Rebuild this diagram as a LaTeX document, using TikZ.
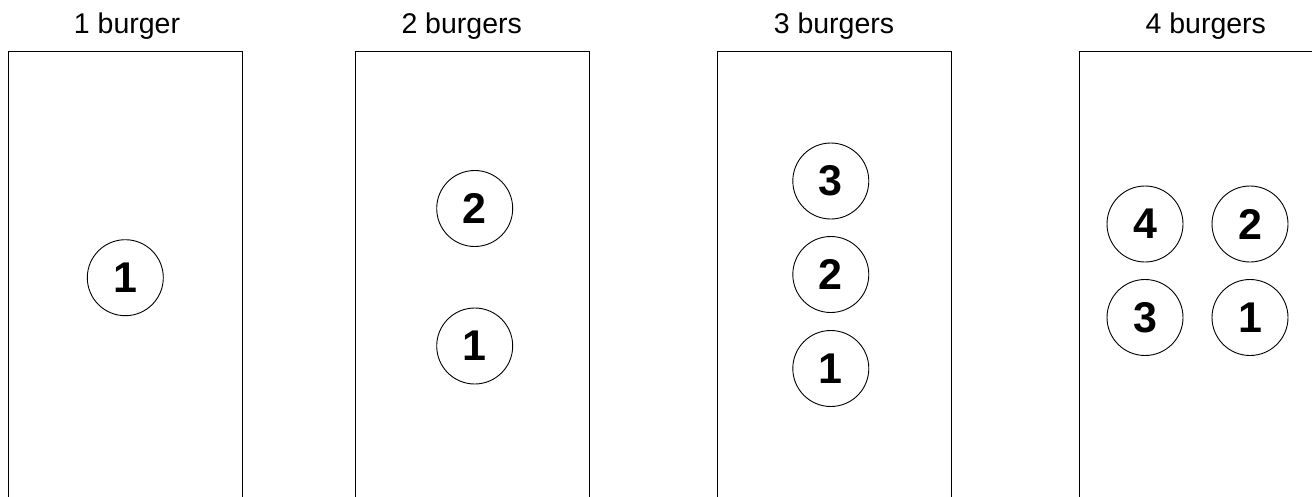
\documentclass[tikz,border=0pt]{standalone}
\usepackage{fontspec}
\setmainfont{Liberation Sans}
\begin{document}
\begin{tikzpicture}[x=1pt,y=-1pt,
  tray/.style={draw=black,line width=1pt},
  burger/.style={circle,draw=black,line width=0.9pt,minimum size=76pt,inner sep=0pt,
    font=\fontsize{43}{50}\selectfont\bfseries},
  caption/.style={anchor=base,inner sep=0pt,font=\fontsize{28.5}{34}\selectfont}]
\useasboundingbox (0,0) rectangle (1312,496);
\clip (0,0) rectangle (1312,496);
% trays
\draw[tray] (8.5,500) -- (8.5,51) -- (242,51) -- (242,500);
\draw[tray] (355,500) -- (355,51) -- (589,51) -- (589,500);
\draw[tray] (717,500) -- (717,51) -- (951,51) -- (951,500);
\draw[tray] (1079,500) -- (1079,51) -- (1313,51) -- (1313,500);
% captions
\node[caption] (c1) at (127,33.3) {1 burger};
\node[caption] (c2) at (461.7,33.3) {2 burgers};
\node[caption] (c3) at (834,33.3) {3 burgers};
\node[caption] (c4) at (1205.8,33.3) {4 burgers};
% burgers
\node[burger] (a1) at (125.3,277.7) {1};
\node[burger] (b2) at (474.7,208.5) {2};
\node[burger] (b1) at (474.7,346) {1};
\node[burger] (d3) at (830.8,181) {3};
\node[burger] (d2) at (830.8,274.5) {2};
\node[burger] (d1) at (830.8,368.5) {1};
\node[burger] (e4) at (1145,224) {4};
\node[burger] (e2) at (1250,224) {2};
\node[burger] (e3) at (1145,317.5) {3};
\node[burger] (e1) at (1250,317.5) {1};
\end{tikzpicture}
\end{document}
